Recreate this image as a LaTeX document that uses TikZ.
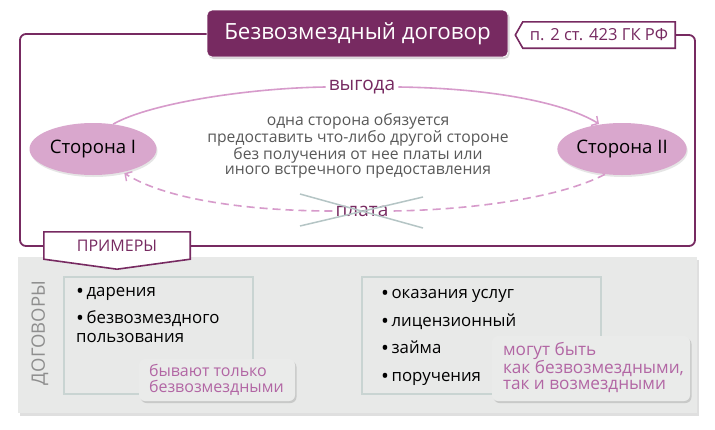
\documentclass[tikz,border=0pt]{standalone}
\usepackage{fontspec}
\setmainfont{Open Sans}
\usetikzlibrary{shapes.geometric,arrows.meta,shadows,calc}
\definecolor{purp}{HTML}{772A61}
\definecolor{lilac}{HTML}{D9A7CD}
\definecolor{arr}{HTML}{D79BCB}
\definecolor{greytext}{HTML}{595959}
\definecolor{panelc}{HTML}{E8E9E8}
\definecolor{notefill}{HTML}{EAEBEA}
\definecolor{boxline}{HTML}{C9D4D2}
\definecolor{notetext}{HTML}{B266A4}
\definecolor{xline}{HTML}{B5C5C5}
\definecolor{vert}{HTML}{8E8E8E}
\newcommand{\bigbul}{{\fontsize{21}{17}\selectfont\raisebox{-2.2pt}{•}}\hspace{2.5pt}}
\tikzset{
  titlebox/.style={fill=purp, draw=white, line width=0.8pt, rounded corners=5pt, text=white,
    font=\fontsize{22.3}{24}\selectfont, inner sep=0pt,
    drop shadow={opacity=0.3, shadow xshift=1.5pt, shadow yshift=-2pt}},
  frameline/.style={draw=purp, line width=1.8pt, rounded corners=6pt},
  oval/.style={ellipse, fill=lilac, inner sep=0pt, minimum width=127pt, minimum height=52pt,
    font=\fontsize{18.6}{20}\selectfont, text=black,
    drop shadow={opacity=0.2, shadow xshift=1pt, shadow yshift=-2pt}},
  lbl/.style={text=purp, font=\fontsize{19}{21}\selectfont, fill=white, inner sep=3pt},
  arrowline/.style={draw=arr, line width=1.6pt},
  tip/.style={-{Straight Barb[length=5pt,width=11pt,line width=1.4pt]}},
  ibox/.style={draw=boxline, line width=1.5pt, inner sep=0pt},
  bul/.style={anchor=base west, text=black, align=left, inner sep=0pt,
    font=\fontsize{16.8}{17}\selectfont},
  notebox/.style={fill=notefill, rounded corners=6pt, inner sep=0pt,
    drop shadow={opacity=0.3, shadow xshift=1.5pt, shadow yshift=-2pt}},
  notetxt/.style={anchor=west, text=notetext, align=left, inner sep=0pt},
}
\begin{document}
\begin{tikzpicture}[x=1pt,y=-1pt]
\useasboundingbox[fill=white] (0,0) rectangle (715,429);

% title and reference
\node[titlebox, minimum width=301pt, minimum height=47pt] (title) at (357.5,33.5) {Безвозмездный договор};
\node[inner sep=0pt, minimum width=152pt, minimum height=26pt] (ref) at (599,35) {};
\draw[purp, line width=1.6pt, fill=white] (ref.north west) -- (ref.north east) -- (ref.south east)
  -- (ref.south west) -- ($(ref.west)+(-7.5,0)$) -- cycle;
\node[inner sep=0pt, text=purp, font=\fontsize{16.6}{18}\selectfont] (reftext) at (ref.center) {п. 2 ст. 423 ГК РФ};

% outer frame
\draw[frameline] (ref.east) -- (695,35) -- (695,246) -- (20,246) -- (20,34) -- (title.west |- 0,34);

% parties
\node[oval] (s1) at (93,149) {Сторона I};
\node[oval] (s2) at (622,149) {Сторона II};

% description
\node[align=center, text=greytext, font=\fontsize{15.7}{14.8}\selectfont] (desc) at (358,146)
  {одна сторона обязуется\\предоставить что-либо другой стороне\\без получения от нее платы или\\иного встречного предоставления};

% benefit arrow
\node[lbl] (vyg) at (362,87) {выгода};
\draw[arrowline] (s1.51) .. controls (150,103) and (250,88) .. (vyg.west);
\draw[arrowline, tip, shorten >=1pt] (vyg.east) .. controls (480,88) and (560,100) .. (s2.132);

% payment arrow (dashed)
\node[lbl] (plata) at (362,211) {плата};
\draw[arrowline, dash pattern=on 8pt off 5pt] (s2.236) .. controls (560,198) and (470,210) .. (plata.east);
\draw[arrowline, dash pattern=on 8pt off 5pt, tip, shorten >=2pt] (plata.west) .. controls (260,211) and (170,202) .. (s1.-38);
\draw[xline, line width=1.5pt] ($(plata.center)+(-62,-17)$) -- ($(plata.center)+(61,17)$);
\draw[xline, line width=1.5pt] ($(plata.center)+(-62,15)$) -- ($(plata.center)+(61,-14)$);

% examples panel
\node[fill=panelc, minimum width=679pt, minimum height=156pt, inner sep=0pt,
  drop shadow={opacity=0.25, shadow xshift=1.5pt, shadow yshift=-2.5pt}] (panel) at (357.5,335) {};
\node[inner sep=0pt, minimum width=146pt, minimum height=27pt] (prim) at (117,245.5) {};
\draw[purp, line width=1.6pt, fill=white] (prim.north west) -- (prim.north east) -- (prim.south east)
  -- ($(prim.south)+(0,10)$) -- (prim.south west) -- cycle;
\node[text=purp, font=\fontsize{16}{17}\selectfont, inner sep=0pt] (primtext) at (prim.center) {ПРИМЕРЫ};

\node[rotate=90, text=vert, font=\fontsize{18.5}{20}\selectfont, inner sep=0pt] (dog) at (40,333) {ДОГОВОРЫ};

% left box
\node[ibox, minimum width=189pt, minimum height=117pt] (lb) at (158.5,335.5) {};
\node[bul] (b1) at (76,296) {\bigbul дарения};
\node[bul] (b2) at (76,323) {\bigbul безвозмездного};
\node[bul] (b2b) at (76,342) {пользования};
\node[notebox, minimum width=156pt, minimum height=42pt] (n1) at (217,380) {};
\node[notetxt, font=\fontsize{16}{15.5}\selectfont] (n1t) at ([xshift=10pt]n1.west) {бывают только\\безвозмездными};

% right box
\node[ibox, minimum width=239pt, minimum height=117pt] (rb) at (481.5,335.5) {};
\node[bul] (c1) at (381,298) {\bigbul оказания услуг};
\node[bul] (c2) at (381,326) {\bigbul лицензионный};
\node[bul] (c3) at (381,353) {\bigbul займа};
\node[bul] (c4) at (381,381) {\bigbul поручения};
\node[notebox, minimum width=198pt, minimum height=65pt] (n2) at (591,368.5) {};
\node[notetxt, font=\fontsize{17.2}{15.8}\selectfont] (n2t) at ([xshift=11pt,yshift=1pt]n2.west)
  {могут быть\\как безвозмездными,\\так и возмездными};
\end{tikzpicture}
\end{document}
